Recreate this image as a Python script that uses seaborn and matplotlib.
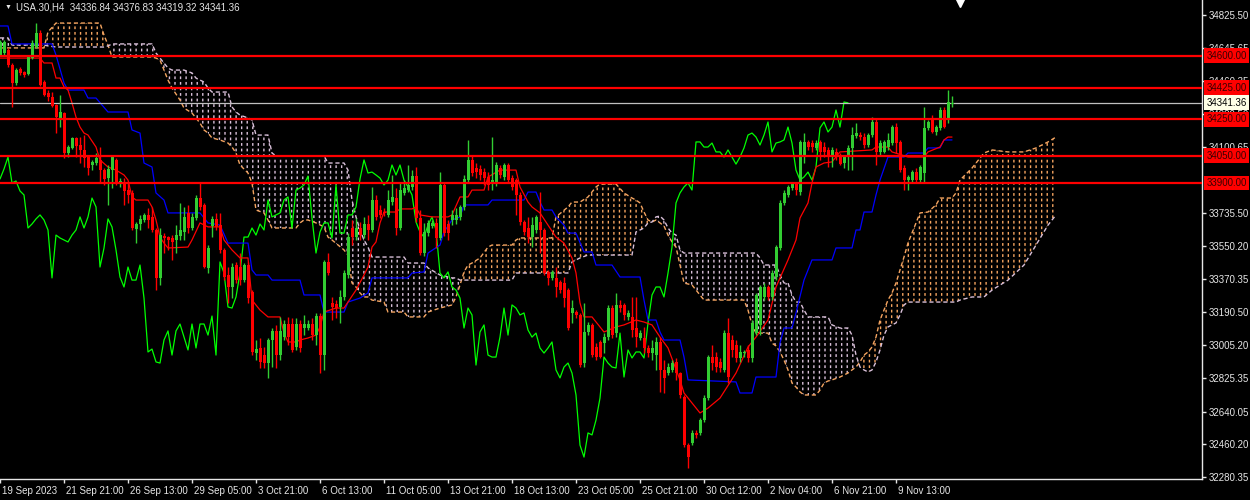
import numpy as np
import matplotlib
matplotlib.use('Agg')
import matplotlib.pyplot as plt
import matplotlib.transforms as mtransforms
import seaborn as sns

# H4 bars of USA.30, bar 0 = 19 Sep 2023
opens = [34605, 34616, 34633, 34550, 34451, 34528, 34511, 34500, 34588, 34649,
         34726, 34456, 34396, 34374, 34330, 34258, 34285, 34065, 34093, 34148,
         34109, 34082, 34043, 33999, 34010, 34027, 33971, 33927, 33971, 34027,
         33900, 33905, 33861, 33845, 33646, 33674, 33696, 33724, 33713, 33641,
         33377, 33608, 33602, 33597, 33586, 33608, 33630, 33735, 33652, 33707,
         33817, 33779, 33432, 33663, 33702, 33668, 33531, 33393, 33327, 33448,
         33437, 33365, 33448, 33299, 32963, 32991, 32952, 32908, 33035, 33085,
         32952, 33051, 33123, 33123, 32996, 33123, 33101, 33101, 33123, 33062,
         33167, 32952, 33465, 33239, 33233, 33217, 33272, 33393, 33652, 33602,
         33652, 33613, 33674, 33641, 33806, 33751, 33740, 33724, 33795, 33817,
         33652, 33845, 33861, 33878, 33938, 33707, 33514, 33624, 33663, 33680,
         33597, 33889, 33674, 33696, 33696, 33713, 33768, 33916, 34027, 33982,
         33977, 33960, 33933, 33900, 33900, 33982, 33933, 33999, 33927, 33916,
         33834, 33685, 33652, 33602, 33641, 33685, 33641, 33410, 33377, 33377,
         33354, 33349, 33310, 33184, 33189, 33173, 32908, 33079, 33118, 32996,
         33024, 33018, 33051, 33211, 33073, 33228, 33228, 33162, 33162, 33101,
         33046, 33046, 32991, 32963, 32952, 33024, 32870, 32853, 32870, 32914,
         32853, 32721, 32456, 32468, 32523, 32523, 32594, 32715, 32941, 32941,
         32914, 32870, 33073, 33035, 33007, 32936, 32963, 32980, 32936, 33073,
         33118, 33272, 33327, 33272, 33382, 33542, 33790, 33834, 33872, 33900,
         33850, 34043, 34126, 34120, 34093, 34126, 34098, 34082, 34043, 34071,
         34043, 34010, 34043, 34093, 34159, 34164, 34153, 34109, 34164, 34236,
         34071, 34071, 34098, 34120, 34208, 34126, 33982, 33916, 33916, 33960,
         33916, 33955, 34203, 34258, 34181, 34203, 34302, 34258, 34336.84]
highs = [34688, 34688, 34644, 34561, 34533, 34539, 34517, 34605, 34688, 34781,
         34743, 34467, 34412, 34401, 34335, 34385, 34291, 34109, 34153, 34153,
         34153, 34164, 34054, 34027, 34065, 34098, 33982, 33999, 34049, 34038,
         33927, 33927, 33905, 33861, 33685, 33724, 33735, 33762, 33768, 33652,
         33652, 33624, 33608, 33613, 33668, 33790, 33768, 33779, 33735, 33834,
         33900, 33790, 33558, 33718, 33735, 33735, 33542, 33437, 33459, 33465,
         33514, 33459, 33465, 33310, 33035, 33046, 32996, 33046, 33101, 33118,
         33162, 33145, 33162, 33156, 33156, 33145, 33173, 33145, 33156, 33184,
         33184, 33476, 33514, 33272, 33255, 33310, 33421, 33624, 33696, 33707,
         33685, 33713, 33724, 33878, 33834, 33779, 33762, 33861, 33944, 33872,
         33900, 33916, 33999, 33971, 33988, 33751, 33680, 33696, 33696, 33707,
         33960, 33900, 33696, 33751, 33762, 33779, 33944, 34137, 34054, 34010,
         33999, 33982, 33960, 34153, 34016, 33999, 34010, 34010, 33944, 33927,
         33850, 33696, 33713, 33713, 33724, 33850, 33652, 33421, 33421, 33437,
         33365, 33382, 33321, 33255, 33200, 33184, 33239, 33134, 33129, 33018,
         33035, 33073, 33228, 33228, 33294, 33255, 33239, 33200, 33272, 33272,
         33090, 33107, 33007, 33035, 33051, 33051, 32925, 32908, 32925, 32936,
         32859, 32732, 32468, 32539, 32539, 32605, 32732, 32952, 33007, 32969,
         32936, 33090, 33156, 33062, 33035, 33007, 32980, 33007, 33145, 33294,
         33338, 33349, 33338, 33421, 33558, 33806, 33861, 33889, 33905, 33905,
         34137, 34175, 34137, 34137, 34137, 34137, 34126, 34098, 34098, 34093,
         34065, 34054, 34109, 34208, 34230, 34181, 34175, 34175, 34263, 34258,
         34137, 34137, 34175, 34219, 34230, 34137, 33999, 33944, 33971, 33982,
         33999, 34319, 34247, 34274, 34219, 34319, 34319, 34412, 34376.83]
lows = [34600, 34605, 34539, 34319, 34440, 34495, 34484, 34495, 34583, 34644,
        34434, 34379, 34352, 34319, 34175, 34208, 34038, 34043, 34087, 34043,
        34010, 33988, 33944, 33971, 33999, 33905, 33889, 33779, 33872, 33889,
        33878, 33779, 33790, 33641, 33569, 33641, 33685, 33652, 33630, 33310,
        33338, 33514, 33531, 33476, 33514, 33586, 33586, 33624, 33641, 33696,
        33751, 33432, 33404, 33602, 33641, 33514, 33365, 33239, 33266, 33349,
        33338, 33354, 33239, 32952, 32925, 32881, 32881, 32826, 32886, 32881,
        32925, 33035, 33007, 32969, 32980, 32969, 33062, 33090, 33035, 33007,
        32853, 32870, 33393, 33145, 33156, 33129, 33255, 33377, 33558, 33586,
        33586, 33597, 33586, 33630, 33696, 33707, 33718, 33713, 33779, 33613,
        33641, 33834, 33850, 33861, 33685, 33503, 33498, 33608, 33652, 33542,
        33586, 33608, 33586, 33668, 33674, 33696, 33751, 33905, 33938, 33927,
        33916, 33889, 33861, 33861, 33883, 33927, 33916, 33900, 33861, 33724,
        33668, 33613, 33569, 33547, 33624, 33514, 33393, 33338, 33365, 33272,
        33294, 33217, 33090, 33129, 33156, 32886, 32886, 33062, 32941, 32925,
        32936, 32963, 33035, 33046, 33051, 33189, 33145, 33145, 33051, 32996,
        33035, 32963, 32941, 32925, 32870, 32749, 32743, 32842, 32859, 32815,
        32715, 32445, 32330, 32456, 32495, 32512, 32583, 32704, 32870, 32859,
        32859, 32859, 32798, 32941, 32914, 32914, 32941, 32914, 32914, 33062,
        33062, 33255, 33255, 33255, 33365, 33531, 33779, 33823, 33861, 33834,
        33834, 34010, 34082, 34071, 34082, 34027, 34043, 33988, 33988, 34027,
        33999, 33982, 33971, 33971, 34148, 34137, 34093, 34098, 34153, 33999,
        34054, 34065, 34082, 34109, 34065, 33960, 33861, 33861, 33905, 33905,
        33900, 33905, 34192, 34175, 34164, 34192, 34203, 34230, 34319.32]
closes = [34677, 34677, 34550, 34451, 34522, 34506, 34495, 34600, 34671, 34726,
          34440, 34385, 34374, 34324, 34263, 34291, 34065, 34098, 34148, 34104,
          34082, 34038, 33982, 34016, 34038, 33971, 33922, 33977, 34043, 33900,
          33911, 33856, 33834, 33652, 33674, 33702, 33724, 33696, 33641, 33377,
          33613, 33597, 33586, 33575, 33613, 33641, 33713, 33652, 33713, 33817,
          33768, 33437, 33542, 33702, 33658, 33531, 33382, 33327, 33437, 33365,
          33365, 33448, 33266, 32969, 32985, 32914, 32908, 33035, 33085, 32952,
          33085, 33123, 33051, 32980, 33123, 32991, 33123, 33123, 33062, 33167,
          32952, 33465, 33404, 33217, 33211, 33272, 33404, 33602, 33602, 33652,
          33613, 33674, 33641, 33806, 33713, 33724, 33735, 33806, 33823, 33652,
          33861, 33872, 33889, 33938, 33707, 33514, 33630, 33680, 33680, 33597,
          33889, 33624, 33624, 33724, 33724, 33768, 33922, 34027, 33955, 33960,
          33944, 33927, 33889, 33916, 33999, 33944, 33999, 33916, 33878, 33834,
          33685, 33630, 33602, 33668, 33713, 33641, 33404, 33377, 33410, 33327,
          33310, 33266, 33101, 33211, 33173, 32897, 33079, 33118, 32952, 32941,
          32941, 33051, 33211, 33062, 33228, 33211, 33173, 33184, 33090, 33051,
          33073, 32991, 32963, 32991, 33024, 32870, 32826, 32886, 32908, 32853,
          32732, 32456, 32390, 32523, 32512, 32594, 32715, 32941, 32908, 32886,
          32881, 33073, 32831, 32980, 32936, 32969, 32969, 32936, 33129, 33283,
          33327, 33327, 33272, 33404, 33547, 33790, 33845, 33878, 33900, 33861,
          34126, 34126, 34098, 34098, 34120, 34071, 34071, 34043, 34082, 34043,
          34004, 34043, 34093, 34164, 34175, 34153, 34109, 34164, 34236, 34071,
          34120, 34126, 34137, 34208, 34120, 33971, 33916, 33933, 33960, 33916,
          33988, 34203, 34236, 34181, 34208, 34302, 34208, 34346, 34341.36]

# Ichimoku lines, read at the bars where they change
tenkan_bar = [0, 10, 11, 13, 14, 15, 16, 17, 18, 19, 20, 21, 22, 24, 25, 27, 29, 31, 32, 33,
              34, 37, 38, 39, 40, 41, 42, 47, 48, 50, 52, 55, 56, 58, 60, 62, 63, 65, 67, 70,
              71, 72, 74, 75, 77, 79, 80, 81, 84, 86, 87, 89, 91, 92, 93, 94, 95, 96, 99, 100,
              103, 104, 105, 108, 112, 113, 115, 117, 118, 121, 122, 125, 129, 130, 132, 133, 135, 137, 139, 141,
              143, 144, 145, 146, 148, 150, 151, 154, 156, 159, 161, 163, 165, 167, 170, 171, 173, 175, 177, 180,
              184, 187, 189, 192, 194, 197, 199, 200, 202, 203, 204, 206, 208, 210, 218, 219, 222, 223, 227, 231,
              232, 235, 236, 237, 238]
tenkan = [34588, 34588, 34561, 34561, 34478, 34478, 34429, 34412, 34341, 34263, 34208, 34175, 34164, 34098, 34027, 33988, 33971, 33944, 33916, 33823,
          33806, 33806, 33768, 33696, 33602, 33569, 33542, 33547, 33586, 33680, 33658, 33658, 33586, 33531, 33487, 33487, 33255, 33200, 33162, 33162,
          33073, 33024, 33024, 33035, 33046, 33062, 33107, 33189, 33211, 33211, 33244, 33310, 33393, 33437, 33547, 33575, 33680, 33740, 33740, 33757,
          33757, 33768, 33724, 33713, 33713, 33724, 33823, 33823, 33861, 33861, 33933, 33971, 33971, 33878, 33795, 33768, 33735, 33668, 33602, 33569,
          33487, 33404, 33239, 33162, 33162, 33107, 33079, 33107, 33118, 33145, 33134, 33118, 33051, 32991, 32815, 32743, 32688, 32633, 32660, 32715,
          32853, 32996, 33051, 33145, 33327, 33476, 33586, 33707, 33790, 33900, 33988, 34010, 34016, 34071, 34082, 34098, 34098, 34071, 34043, 34043,
          34071, 34098, 34137, 34153, 34153]
kijun_bar = [0, 2, 3, 13, 14, 16, 17, 21, 22, 24, 27, 32, 33, 35, 36, 38, 39, 41, 42, 50,
             52, 55, 57, 62, 63, 64, 67, 68, 75, 76, 80, 81, 86, 87, 90, 92, 93, 102, 103, 106,
             107, 110, 111, 113, 115, 116, 122, 123, 131, 132, 134, 135, 136, 138, 139, 141, 142, 144, 146, 148,
             149, 153, 155, 160, 161, 162, 164, 165, 166, 170, 171, 172, 184, 185, 188, 189, 194, 195, 196, 198,
             199, 201, 203, 208, 209, 213, 214, 215, 216, 218, 219, 220, 222, 226, 227, 231, 232, 235, 236, 238]
kijun = [34765, 34765, 34666, 34666, 34605, 34451, 34412, 34412, 34368, 34368, 34291, 34291, 34192, 34175, 34010, 33988, 33845, 33806, 33735, 33735,
         33680, 33668, 33569, 33569, 33421, 33393, 33393, 33365, 33365, 33283, 33283, 33189, 33189, 33244, 33266, 33294, 33377, 33377, 33404, 33410,
         33514, 33558, 33630, 33696, 33713, 33779, 33779, 33806, 33806, 33850, 33850, 33795, 33751, 33751, 33713, 33668, 33624, 33624, 33520, 33520,
         33448, 33448, 33382, 33382, 33255, 33145, 33145, 33079, 33035, 33035, 32941, 32815, 32804, 32743, 32743, 32831, 32831, 33018, 33101, 33101,
         33184, 33365, 33476, 33476, 33542, 33542, 33641, 33641, 33740, 33740, 33834, 33916, 34043, 34043, 34065, 34065, 34093, 34093, 34137, 34137]
cloud_bar = [0, 2, 3, 11, 12, 14, 25, 26, 27, 28, 38, 39, 40, 42, 43, 45, 46, 48, 49, 50,
             51, 52, 53, 55, 57, 58, 59, 60, 62, 63, 64, 66, 67, 68, 69, 74, 75, 76, 77, 79,
             81, 82, 83, 86, 87, 88, 89, 90, 91, 92, 93, 96, 97, 101, 102, 106, 107, 110, 113, 114,
             115, 116, 117, 118, 120, 122, 123, 128, 129, 130, 138, 139, 142, 143, 145, 147, 149, 150, 154, 156,
             158, 159, 160, 161, 162, 163, 164, 165, 166, 167, 168, 169, 170, 171, 173, 175, 176, 186, 187, 188,
             189, 190, 191, 192, 193, 194, 195, 196, 197, 198, 199, 200, 201, 202, 204, 205, 206, 207, 208, 210,
             212, 213, 214, 215, 216, 217, 218, 219, 220, 221, 222, 223, 224, 225, 226, 227, 228, 229, 230, 232,
             234, 235, 238, 239, 240, 243, 246, 248, 252, 256, 259, 262, 264]
span_a = [34644, 34644, 34644, 34644, 34732, 34781, 34781, 34715, 34660, 34594, 34594, 34588, 34577, 34467, 34423, 34357, 34313, 34285, 34258, 34230,
          34192, 34175, 34148, 34137, 34120, 34098, 34065, 33999, 33955, 33900, 33751, 33735, 33696, 33652, 33652, 33652, 33680, 33696, 33696, 33680,
          33658, 33602, 33586, 33531, 33503, 33349, 33327, 33294, 33272, 33272, 33255, 33244, 33189, 33189, 33162, 33162, 33189, 33211, 33228, 33272,
          33338, 33410, 33448, 33459, 33487, 33547, 33558, 33558, 33586, 33597, 33597, 33713, 33768, 33795, 33795, 33823, 33878, 33894, 33894, 33845,
          33817, 33806, 33790, 33740, 33696, 33685, 33696, 33680, 33663, 33613, 33575, 33547, 33448, 33349, 33338, 33283, 33255, 33255, 33200, 33118,
          33073, 33073, 33073, 33073, 33018, 33002, 32969, 32925, 32870, 32798, 32776, 32749, 32732, 32732, 32732, 32759, 32798, 32809, 32815, 32831,
          32853, 32870, 32886, 32914, 32952, 32969, 32996, 33051, 33145, 33200, 33255, 33294, 33349, 33421, 33492, 33569, 33624, 33680, 33735, 33740,
          33779, 33817, 33817, 33845, 33916, 33982, 34065, 34082, 34071, 34071, 34093, 34126, 34153]
span_b = [34699, 34699, 34660, 34660, 34655, 34649, 34649, 34649, 34655, 34666, 34666, 34616, 34588, 34533, 34522, 34522, 34522, 34506, 34478, 34467,
          34456, 34423, 34401, 34401, 34401, 34319, 34291, 34274, 34258, 34247, 34164, 34164, 34164, 34065, 34049, 34049, 34049, 34049, 34049, 34049,
          34049, 34010, 34010, 34010, 33971, 33806, 33713, 33641, 33586, 33547, 33492, 33492, 33492, 33492, 33459, 33459, 33432, 33393, 33377, 33377,
          33365, 33365, 33365, 33365, 33365, 33365, 33365, 33365, 33404, 33404, 33404, 33404, 33404, 33465, 33487, 33503, 33503, 33503, 33503, 33503,
          33503, 33630, 33641, 33652, 33680, 33685, 33713, 33718, 33696, 33652, 33624, 33613, 33531, 33514, 33514, 33514, 33514, 33514, 33514, 33514,
          33514, 33487, 33448, 33448, 33448, 33448, 33393, 33349, 33349, 33283, 33244, 33244, 33200, 33162, 33162, 33162, 33162, 33162, 33118, 33101,
          33101, 33062, 32952, 32886, 32870, 32859, 32870, 32914, 32980, 33062, 33107, 33118, 33129, 33173, 33228, 33244, 33244, 33244, 33244, 33244,
          33244, 33244, 33244, 33244, 33255, 33272, 33272, 33310, 33365, 33448, 33558, 33668, 33724]

levels = [34600, 34425, 34250, 34050, 33900]
bid = 34341.36

ytick_vals = [34825.50, 34645.65, 34460.35, 34280.50, 34100.65, 33735.50, 33550.20,
              33370.35, 33190.50, 33005.20, 32825.35, 32640.05, 32460.20, 32280.35]
xtick_bars = [0, 16, 32, 48, 64, 80, 96, 112, 128, 144, 160, 176, 192, 208, 224]
xtick_labels = ['19 Sep 2023', '21 Sep 21:00', '26 Sep 13:00', '29 Sep 05:00', '3 Oct 21:00',
                '6 Oct 13:00', '11 Oct 05:00', '13 Oct 21:00', '18 Oct 13:00', '23 Oct 05:00',
                '25 Oct 21:00', '30 Oct 12:00', '2 Nov 04:00', '6 Nov 21:00', '9 Nov 13:00']

BULL = '#32CD32'
BEAR = '#FF0000'
SANDY = '#F4A460'
THISTLE = '#D8BFD8'
FG = '#E6E6E6'

sns.set_style('dark', rc={'axes.facecolor': 'black', 'figure.facecolor': 'black'})
plt.rcParams['font.family'] = ['Liberation Sans', 'DejaVu Sans']

fig = plt.figure(figsize=(12.5, 5), dpi=100)
ax = fig.add_axes([0, 0.042, 0.9616, 0.958])
ax.set_facecolor('black')

o = np.array(opens, float)
h = np.array(highs, float)
l = np.array(lows, float)
c = np.array(closes, float)
bars = np.arange(len(c))

# cloud: vertical hatch broken into dashes by a black horizontal hatch
cx = np.array(cloud_bar, float)
sa = np.array(span_a, float)
sb = np.array(span_b, float)
plt.rcParams['hatch.linewidth'] = 1.0
for mask, col in [(sa >= sb, SANDY), (sa < sb, THISTLE)]:
    coll = ax.fill_between(cx, sa, sb, where=mask, interpolate=True, facecolor='none',
                           edgecolor=col, hatch='|||', linewidth=0, zorder=1)
    if hasattr(coll, 'set_hatch_linewidth'):
        coll.set_hatch_linewidth(1.0)
plt.rcParams['hatch.linewidth'] = 2.0
gap = ax.fill_between(cx, sa, sb, facecolor='none', edgecolor='black', hatch='---',
                      linewidth=0, zorder=1.1)
if hasattr(gap, 'set_hatch_linewidth'):
    gap.set_hatch_linewidth(2.0)
sns.lineplot(x=cx, y=sa, ax=ax, color=SANDY, linewidth=1, linestyle=(0, (3, 2)), zorder=1.2)
sns.lineplot(x=cx, y=sb, ax=ax, color=THISTLE, linewidth=1, linestyle=(0, (3, 2)), zorder=1.2)

# chikou, kijun, tenkan
sns.lineplot(x=bars[:-26], y=c[26:], ax=ax, color='#00FF00', linewidth=0.9, zorder=2)
sns.lineplot(x=kijun_bar, y=kijun, ax=ax, color='#0000FF', linewidth=0.9, zorder=2.1)
sns.lineplot(x=tenkan_bar, y=tenkan, ax=ax, color='#FF0000', linewidth=0.9, zorder=2.2)

# candles
cols = np.where(c >= o, BULL, BEAR)
ax.vlines(bars, l, h, colors=cols, linewidth=1, zorder=3)
body = np.maximum(np.abs(c - o), 5.5)
ax.bar(bars, body, bottom=np.minimum(o, c), width=0.75, color=cols, linewidth=0, zorder=3.1)

# levels and bid line
trans = mtransforms.blended_transform_factory(ax.transAxes, ax.transData)
ax.axhline(bid, color='#C0C0C0', linewidth=0.9, zorder=2.5)
for lv in levels:
    ax.axhline(lv, color='#FF0000', linewidth=1.6, zorder=4)
    ax.text(1.0035, lv, f'{lv:.2f}', transform=trans, ha='left', va='center', fontsize=7,
            color='#3A0000', clip_on=False, zorder=6,
            bbox=dict(boxstyle='square,pad=0.25', fc='#FF0000', ec='none'))
ax.text(1.0035, bid, f'{bid:.2f}', transform=trans, ha='left', va='center', fontsize=7,
        color='black', clip_on=False, zorder=6,
        bbox=dict(boxstyle='square,pad=0.25', fc='#FFFFE6', ec='none'))

ax.set_xlim(0, 300.5)
ax.set_ylim(32269.2, 34908)
ax.set_xlabel('')
ax.set_ylabel('')

ax.yaxis.tick_right()
ax.set_yticks(ytick_vals)
ax.set_yticklabels([f'{v:.2f}' for v in ytick_vals])
ax.set_xticks(xtick_bars)
ax.set_xticklabels(xtick_labels)
ax.tick_params(axis='both', colors=FG, labelcolor=FG, labelsize=7, direction='out', length=3, width=1)
ax.tick_params(axis='y', pad=2, left=False, right=True)
ax.tick_params(axis='x', pad=2, bottom=True)
shift = mtransforms.ScaledTranslation(2 / 100, 0, fig.dpi_scale_trans)
for lab in ax.get_xticklabels():
    lab.set_horizontalalignment('left')
    lab.set_transform(lab.get_transform() + shift)
ax.grid(False)
for side in ['left', 'top']:
    ax.spines[side].set_visible(False)
for side in ['right', 'bottom']:
    ax.spines[side].set_visible(True)
    ax.spines[side].set_color(FG)
    ax.spines[side].set_linewidth(1)

# header and chart shift marker
fig.text(5 / 1250, 1 - 7 / 500, '\u25bc', color=FG, fontsize=5, va='center', ha='left')
fig.text(16 / 1250, 1 - 7 / 500,
         f'USA.30,H4  {opens[-1]:.2f} {highs[-1]:.2f} {lows[-1]:.2f} {closes[-1]:.2f}',
         color=FG, fontsize=7, va='center', ha='left')
ax.plot([0.799], [0.996], marker='v', markersize=7, color='white', transform=ax.transAxes,
        clip_on=False, zorder=7)

fig.savefig('out.png', dpi=100, facecolor='black')
